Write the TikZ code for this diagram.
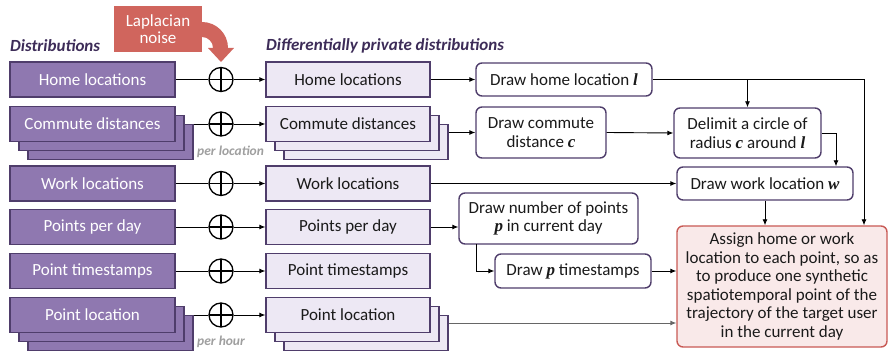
\documentclass[tikz,border=0pt]{standalone}
\usepackage{fontspec}
\setmainfont{Carlito}
\newfontfamily\varfont{Liberation Serif}
\usetikzlibrary{arrows.meta,shadows,calc}
\newcommand\mv[1]{{\varfont\bfseries\itshape #1}}
\definecolor{dpurple}{HTML}{8F78B0}
\definecolor{bpurple}{HTML}{4F3D6B}
\definecolor{lpurple}{HTML}{EDE8F4}
\definecolor{headc}{HTML}{3D2C58}
\definecolor{noisec}{HTML}{D0655D}
\definecolor{finfill}{HTML}{F9E9E9}
\definecolor{finborder}{HTML}{C85A55}
\definecolor{txtc}{HTML}{1A1A1A}
\tikzset{
  boxfont/.style={font=\fontsize{17}{18.5}\selectfont},
  leftbox/.style={boxfont, draw=bpurple, line width=1.4pt, fill=dpurple, text=white, minimum width=165pt, minimum height=35pt, inner sep=0pt},
  rightbox/.style={boxfont, draw=bpurple, line width=1.4pt, fill=lpurple, text=txtc, minimum width=164pt, minimum height=35pt, inner sep=0pt},
  stack/.style={double copy shadow={shadow xshift=9pt, shadow yshift=-9pt}},
  drawbox/.style={boxfont, draw=bpurple, line width=1.4pt, fill=white, rounded corners=6pt, text=txtc, align=center, inner sep=0pt},
  oplus/.style={circle, draw=black, line width=1.3pt, minimum size=24pt, inner sep=0pt,
     path picture={\draw[line width=1.3pt] (path picture bounding box.north) -- (path picture bounding box.south) (path picture bounding box.west) -- (path picture bounding box.east);}},
  conn/.style={line width=0.9pt, draw=black, -{Latex[length=6pt,width=5pt]}},
  plain/.style={line width=0.9pt, draw=black},
  heading/.style={font=\fontsize{17}{18}\selectfont\bfseries\itshape, text=headc, inner sep=0pt},
  note/.style={font=\fontsize{13.5}{14}\selectfont\bfseries\itshape, text=gray!75, inner sep=0pt},
}
\begin{document}
\begin{tikzpicture}[x=1pt,y=-1pt]
\useasboundingbox (0,0) rectangle (888,352);

% Laplacian noise
\node[fill=noisec, text=white, minimum width=88pt, minimum height=46pt, inner sep=0pt, align=center, font=\fontsize{17}{17}\selectfont] (noise) at (158,29) {Laplacian\\noise};
\fill[noisec] (200,22) -- (202,22) .. controls (216.4,22) and (228,33.6) .. (228,48) -- (234,48) -- (221,62) -- (208,48) -- (213,48) .. controls (213,41.9) and (208.1,37) .. (202,37) -- (200,37) -- cycle;

% headings
\node[heading, anchor=west] (h1) at (10,46) {Distributions};
\node[heading, anchor=west] (h2) at (266,46) {Differentially private distributions};

% left boxes
\node[leftbox] (l1) at (92.5,79.5) {Home locations};
\node[leftbox, stack] (l2) at (92.5,124) {Commute distances};
\node[leftbox] (l3) at (92.5,183.5) {Work locations};
\node[leftbox] (l4) at (92.5,227) {Points per day};
\node[leftbox] (l5) at (92.5,271) {Point timestamps};
\node[leftbox, stack] (l6) at (92.5,315) {Point location};

% oplus
\node[oplus] (o1) at (221,79.5) {};
\node[oplus] (o2) at (221,124) {};
\node[oplus] (o3) at (221,183.5) {};
\node[oplus] (o4) at (221,227) {};
\node[oplus] (o5) at (221,271) {};
\node[oplus] (o6) at (221,315) {};

% right boxes
\node[rightbox] (r1) at (348,79.5) {Home locations};
\node[rightbox, stack] (r2) at (348,124) {Commute distances};
\node[rightbox] (r3) at (348,183.5) {Work locations};
\node[rightbox] (r4) at (348,227) {Points per day};
\node[rightbox] (r5) at (348,271) {Point timestamps};
\node[rightbox, stack] (r6) at (348,315) {Point location};

% notes
\node[note, anchor=west] (n1) at (197,152) {per location};
\node[note, anchor=west] (n2) at (197,342) {per hour};

% back-copy edges
\coordinate (l2b) at ($(l2.east)+(18,0)$);
\coordinate (l6b) at ($(l6.east)+(18,0)$);
\coordinate (r2b) at ($(r2.east)+(18,8)$);
\coordinate (r6b) at ($(r6.east)+(18,8)$);

% connectors left -> oplus -> right
\draw[plain] (l1.east) -- (o1.west);
\draw[plain] (l2b) -- (o2.west);
\draw[plain] (l3.east) -- (o3.west);
\draw[plain] (l4.east) -- (o4.west);
\draw[plain] (l5.east) -- (o5.west);
\draw[plain] (l6b) -- (o6.west);
\draw[conn] (o1.east) -- (r1.west);
\draw[conn] (o2.east) -- (r2.west);
\draw[conn] (o3.east) -- (r3.west);
\draw[conn] (o4.east) -- (r4.west);
\draw[conn] (o5.east) -- (r5.west);
\draw[conn] (o6.east) -- (r6.west);

% process boxes
\node[drawbox, minimum width=176pt, minimum height=33pt] (dh) at (564,79.5) {Draw home location \mv{l}};
\node[drawbox, minimum width=130pt, minimum height=51pt] (dc) at (541,132.5) {Draw commute\\distance \mv{c}};
\node[drawbox, minimum width=147pt, minimum height=50pt] (dl) at (747.5,133) {Delimit a circle of\\radius \mv{c} around \mv{l}};
\node[drawbox, minimum width=176pt, minimum height=33pt] (dw) at (765,183.5) {Draw work location \mv{w}};
\node[drawbox, minimum width=179pt, minimum height=51pt] (dn) at (548.5,218.5) {Draw number of points\\\mv{p} in current day};
\node[drawbox, minimum width=156pt, minimum height=34pt] (dt) at (573,271) {Draw \mv{p} timestamps};
\node[drawbox, draw=finborder, fill=finfill, minimum width=210pt, minimum height=121pt] (fin) at (782,286.5) {Assign home or work\\location to each point, so as\\to produce one synthetic\\spatiotemporal point of the\\trajectory of the target user\\in the current day};

\coordinate (cr) at (864,79.5);
\coordinate (cd) at (836,133);
\coordinate (cn) at (476,244);

\draw[conn] (r1.east) -- (dh.west);
\draw[conn] (r2b |- dc.west) -- (dc.west);
\draw[conn] (dc.east) -- (dl.west);
\draw[conn] (dh.east) -- (cr) -- (cr |- fin.north);
\draw[conn] (dl.north |- dh.east) -- (dl.north);
\draw[conn] (dl.east |- cd) -- (cd) -- (cd |- dw.north);
\draw[conn] (r3.east) -- (dw.west);
\draw[conn] (dw.south) -- (dw.south |- fin.north);
\draw[conn] (r4.east) -- (dn.west |- r4.east);
\draw[conn] (cn) -- (cn |- dt.west) -- (dt.west);
\draw[conn] (dt.east) -- (fin.west |- dt.east);
\draw[conn, draw=gray!80!black] (r6b) -- (fin.west |- r6b);
\end{tikzpicture}
\end{document}
